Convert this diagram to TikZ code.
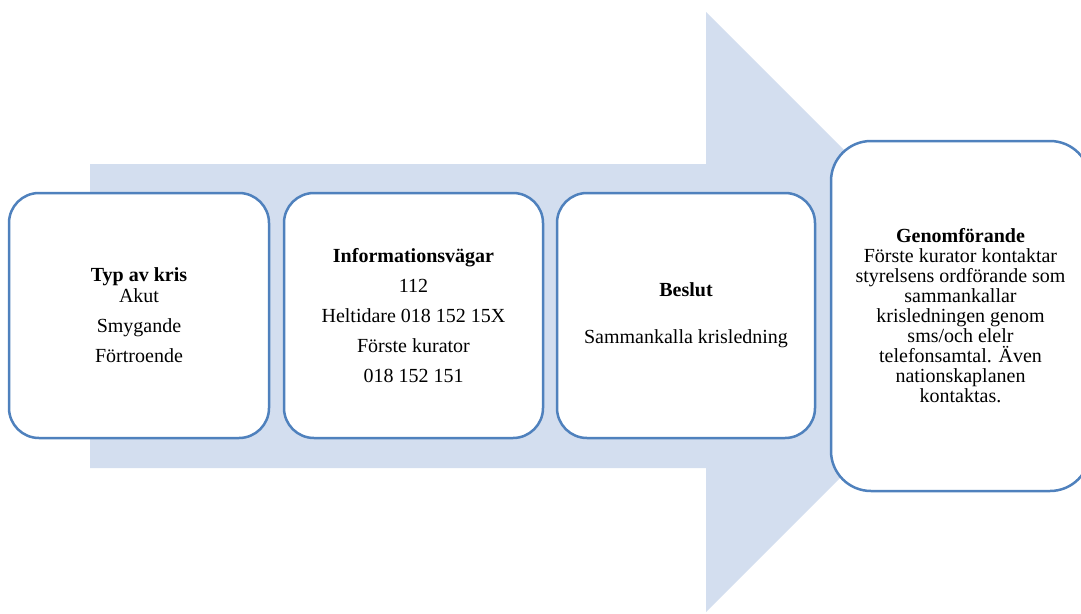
\documentclass[tikz,border=0pt]{standalone}
\usepackage{fontspec}
\setmainfont{Liberation Serif}
\definecolor{arrowfill}{RGB}{211,222,239}
\definecolor{boxblue}{RGB}{79,129,189}
\tikzset{
  stagebox/.style={draw=boxblue, line width=2.5pt, fill=white, rounded corners=30pt,
    align=center, inner sep=0pt, text=black,
    font=\fontsize{20}{30}\selectfont},
}
\begin{document}
\begin{tikzpicture}[x=1pt,y=-1pt]
\useasboundingbox (0,0) rectangle (1081,613);
\clip (0,0) rectangle (1081,613);
% big arrow
\fill[arrowfill] (90,164) -- (706,164) -- (706,12) -- (1006,312) -- (706,612) -- (706,468) -- (90,468) -- cycle;
% boxes
\node[stagebox, minimum width=260pt, minimum height=245pt] (typ) at (139,315.5)
  {\textbf{Typ av kris}\\[-9pt] Akut\\ Smygande\\ Förtroende};
\node[stagebox, minimum width=259pt, minimum height=245pt] (info) at (413.5,315.5)
  {\textbf{Informationsvägar}\\ 112\\ Heltidare 018 152 15X\\ Förste kurator\\ 018 152 151};
\node[stagebox, minimum width=258pt, minimum height=245pt] (beslut) at (686,315.5)
  {\textbf{Beslut}\\[17pt] Sammankalla krisledning};
\node[stagebox, rounded corners=40pt, minimum width=259pt, minimum height=350pt,
  font=\fontsize{20}{20}\selectfont] (genom) at (960.5,316)
  {\textbf{Genomförande}\\ Förste kurator kontaktar\\ styrelsens ordförande som\\ sammankallar\\ krisledningen genom\\ sms/och elelr\\ telefonsamtal. Även\\ nationskaplanen\\ kontaktas.};
\end{tikzpicture}
\end{document}
